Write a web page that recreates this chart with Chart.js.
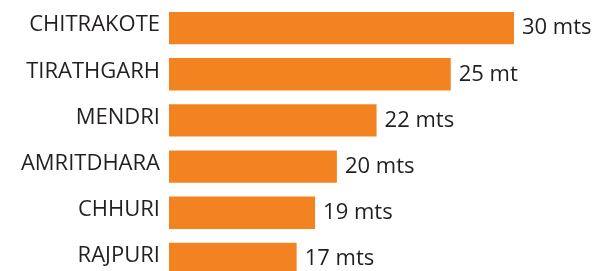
<!DOCTYPE html>
<html>
<head>
<meta charset="utf-8">
<script src="https://cdn.jsdelivr.net/npm/chart.js@4"></script>
<style>
  html, body { margin: 0; padding: 0; background: #fff; overflow: hidden; }
  canvas { display: block; }
</style>
</head>
<body>
<canvas id="barChart" width="613" height="283"></canvas>
<script>
// Waterfall heights as printed on the chart
const places = ['CHITRAKOTE', 'TIRATHGARH', 'MENDRI', 'AMRITDHARA', 'CHHURI', 'RAJPURI'];
const heights = [30, 25, 22, 20, 19, 17];
const units = ['mts', 'mt', 'mts', 'mts', 'mts', 'mts'];
// bar lengths as drawn in the picture (not to scale with the printed values)
const barLengths = [30, 24.5, 18.05, 14.6, 12.7, 11.1];

const ctx = document.getElementById('barChart').getContext('2d');

// writes "30 mts" etc. just past the end of each bar
const valueLabels = {
    id: 'valueLabels',
    afterDatasetsDraw(chart) {
        const c = chart.ctx;
        const meta = chart.getDatasetMeta(0);
        c.save();
        c.font = '22px "Open Sans", sans-serif';
        c.fillStyle = '#231f20';
        c.textBaseline = 'middle';
        c.textAlign = 'left';
        meta.data.forEach((bar, i) => {
            c.fillText(heights[i] + ' ' + units[i], bar.x + 8, bar.y);
        });
        c.restore();
    }
};

const myChart = new Chart(ctx, {
    type: 'bar',
    data: {
        labels: places,
        datasets: [{
            data: barLengths,
            backgroundColor: '#f38321',
            barPercentage: 0.7,
            categoryPercentage: 1
        }]
    },
    options: {
        indexAxis: 'y',
        responsive: false,
        animation: false,
        layout: { padding: { top: 5, right: 30, bottom: 1, left: 0 } },
        plugins: {
            legend: { display: false },
            tooltip: { enabled: false }
        },
        scales: {
            x: {
                display: false,
                min: 0,
                max: 36
            },
            y: {
                grid: { display: false, drawTicks: false },
                border: { display: false },
                ticks: {
                    padding: 9,
                    labelOffset: -3,
                    color: '#231f20',
                    font: { family: '"Open Sans", sans-serif', size: 22 }
                },
                afterFit(scale) {
                    scale.width = 169;
                    // no extra room for half-labels at top/bottom
                    scale.paddingTop = 0;
                    scale.paddingBottom = 0;
                }
            }
        }
    },
    plugins: [valueLabels]
});
</script>
</body>
</html>
